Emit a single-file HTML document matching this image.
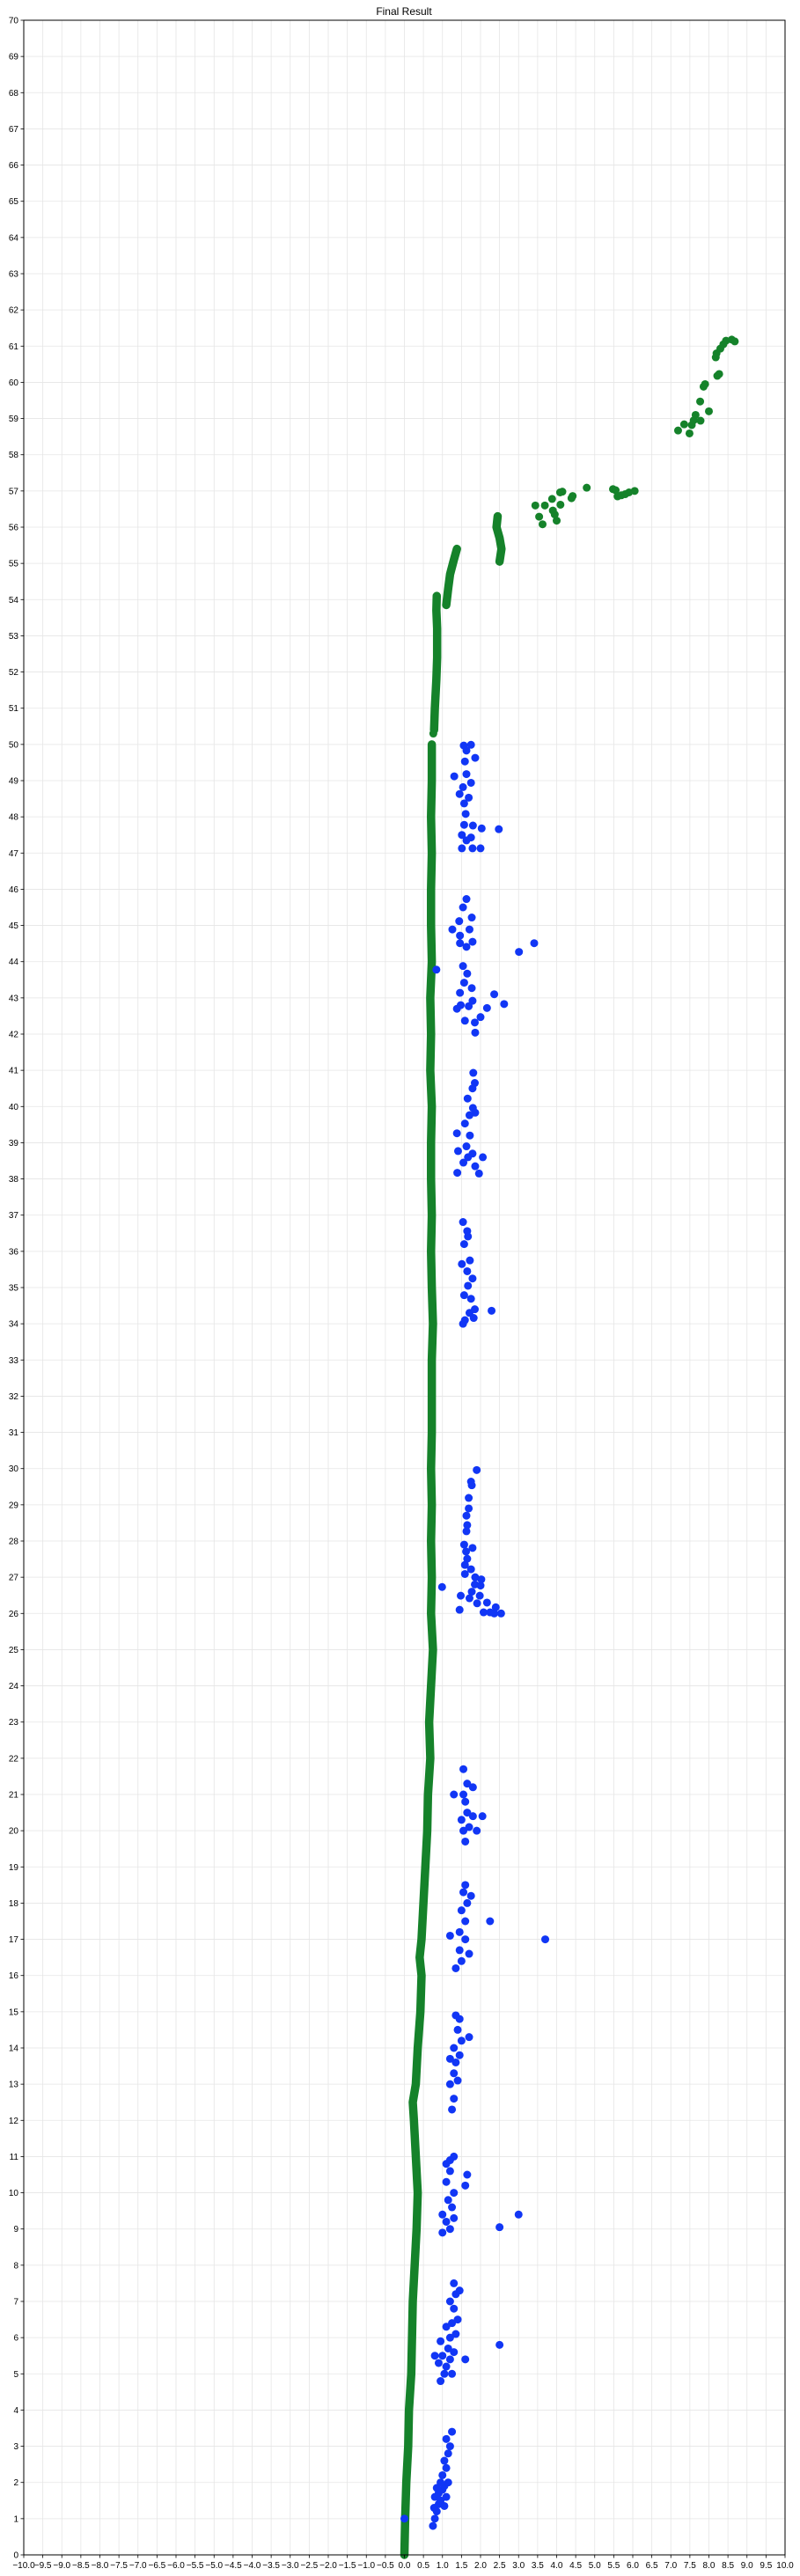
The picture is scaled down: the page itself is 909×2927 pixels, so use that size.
<!DOCTYPE html>
<html><head><meta charset="utf-8"><style>
html,body{margin:0;padding:0;background:#fff;}
svg{display:block;font-family:"Liberation Sans","DejaVu Sans",sans-serif;}
</style></head><body>
<svg id="chart" width="909" height="2927" viewBox="0 0 909 2927" xmlns="http://www.w3.org/2000/svg">
<rect x="0" y="0" width="909" height="2927" fill="#fff"/>
<text x="459" y="17" text-anchor="middle" font-size="12" fill="#000">Final Result</text>
<g id="grid"></g>
<g id="series"></g>
<g id="axes"></g>
</svg>
<script>
const xTicks = [];
for (let i = -20; i <= 20; i++) xTicks.push(i / 2);
const yTicks = [];
for (let i = 0; i <= 70; i++) yTicks.push(i);

const greenPathMain = [[0,0],[0.02,1],[0.05,2],[0.1,3],[0.12,4],[0.18,5],[0.2,6],[0.22,7],[0.27,8],[0.32,9],[0.35,10],[0.3,11],[0.25,12],[0.22,12.5],[0.3,13],[0.35,14],[0.42,15],[0.45,16],[0.4,16.5],[0.45,17],[0.5,18],[0.55,19],[0.6,20],[0.62,21],[0.68,22],[0.65,23],[0.7,24],[0.75,25],[0.7,26],[0.72,27],[0.7,28],[0.72,29],[0.7,30],[0.72,31],[0.72,32],[0.72,33],[0.75,34],[0.72,35],[0.7,36],[0.72,37],[0.7,38],[0.7,39],[0.72,40],[0.68,41],[0.7,42],[0.68,43],[0.72,44],[0.7,45],[0.7,46],[0.72,47],[0.7,48],[0.72,49],[0.72,50]];
const greenPath2 = [[0.78,50.4],[0.8,51],[0.84,51.8],[0.86,52.4],[0.86,53.2],[0.84,53.7],[0.85,54.1]];
const greenPath3 = [[1.1,53.85],[1.15,54.3],[1.2,54.7],[1.3,55.1],[1.38,55.4]];
const greenPath4 = [[2.5,55.05],[2.55,55.4],[2.5,55.7],[2.42,56.0],[2.45,56.3]];
const greenDots = [[0.76,50.3],[3.44,56.6],[3.54,56.29],[3.63,56.08],[3.69,56.6],[3.88,56.78],[3.9,56.46],[4.0,56.18],[3.95,56.35],[4.09,56.96],[4.15,56.98],[4.1,56.62],[4.39,56.8],[4.42,56.86],[4.79,57.09],[5.48,57.05],[5.55,57.02],[5.6,56.85],[5.7,56.88],[5.8,56.91],[5.9,56.96],[6.05,57.0],[7.19,58.67],[7.35,58.84],[7.49,58.59],[7.55,58.82],[7.6,58.95],[7.65,59.1],[7.78,58.94],[8.0,59.2],[7.77,59.47],[7.86,59.88],[7.9,59.95],[8.27,60.23],[8.22,60.18],[8.18,60.69],[8.2,60.8],[8.3,60.93],[8.38,61.05],[8.45,61.15],[8.6,61.18],[8.68,61.13]];
const bluePoints = [[0,1.0],
[0.75,0.8],[0.8,1.0],[0.85,1.2],[0.78,1.3],[0.9,1.4],[1.05,1.35],[0.95,1.5],[0.8,1.6],[1.1,1.6],[0.9,1.7],[1.0,1.8],[0.85,1.85],[1.05,1.9],[0.95,2.0],[1.15,2.0],[1.0,2.2],[1.1,2.4],[1.05,2.6],[1.15,2.8],[1.2,3.0],[1.25,3.4],[1.1,3.2],
[0.95,4.8],[1.05,5.0],[1.25,5.0],[0.9,5.3],[1.1,5.2],[1.2,5.4],[1.6,5.4],[1.0,5.5],[1.3,5.6],[1.15,5.7],[0.95,5.9],[1.2,6.0],[1.35,6.1],[1.1,6.3],[1.25,6.4],[1.4,6.5],[1.3,6.8],[1.2,7.0],[1.35,7.2],[1.3,7.5],[1.45,7.3],[2.5,5.8],[0.8,5.5],
[1.0,8.9],[1.2,9.0],[1.1,9.2],[1.3,9.3],[1.0,9.4],[1.25,9.6],[1.15,9.8],[1.3,10.0],[1.1,10.3],[1.2,10.6],[1.1,10.8],[1.3,11.0],[1.2,10.9],[1.6,10.2],[1.65,10.5],[2.5,9.05],[3.0,9.4],
[1.25,12.3],[1.3,12.6],[1.2,13.0],[1.4,13.1],[1.3,13.3],[1.35,13.6],[1.45,13.8],[1.3,14.0],[1.5,14.2],[1.4,14.5],[1.45,14.8],[1.35,14.9],[1.7,14.3],[1.2,13.7],
[1.35,16.2],[1.5,16.4],[1.45,16.7],[1.6,17.0],[1.45,17.2],[1.6,17.5],[1.5,17.8],[1.65,18.0],[1.55,18.3],[1.6,18.5],[1.2,17.1],[1.7,16.6],[2.25,17.5],[3.7,17.0],[1.75,18.2],
[1.6,19.7],[1.55,20.0],[1.7,20.1],[1.5,20.3],[1.65,20.5],[1.8,20.4],[2.05,20.4],[1.9,20.0],[1.6,20.8],[1.55,21.0],[1.3,21.0],[1.65,21.3],[1.55,21.7],[1.8,21.2],
[1.9,29.96],[1.75,29.64],[1.77,29.54],[1.69,29.19],[1.69,28.9],[1.63,28.7],[1.65,28.44],[1.63,28.27],[1.57,27.9],[1.79,27.81],[1.62,27.71],[1.65,27.51],[1.59,27.34],[1.75,27.22],[1.59,27.09],[1.86,27.0],[2.02,26.94],[1.85,26.8],[2.0,26.77],[0.99,26.73],[1.77,26.6],[1.48,26.49],[1.71,26.42],[1.98,26.49],[1.91,26.28],[2.17,26.3],[1.45,26.1],[2.08,26.03],[2.25,26.03],[2.36,26.0],[2.4,26.17],[2.54,26.0],
[1.54,36.81],[1.65,36.56],[1.67,36.41],[1.57,36.2],[1.51,35.65],[1.72,35.75],[1.65,35.45],[1.79,35.25],[1.67,35.05],[1.57,34.79],[1.75,34.69],[1.54,34.0],[1.59,34.1],[1.71,34.3],[1.85,34.4],[1.82,34.16],[2.29,34.36],
[1.81,40.93],[1.85,40.65],[1.79,40.5],[1.66,40.22],[1.8,39.96],[1.86,39.83],[1.71,39.76],[1.59,39.53],[1.38,39.26],[1.72,39.2],[1.63,38.9],[1.41,38.77],[1.79,38.7],[2.06,38.6],[1.55,38.45],[1.86,38.35],[1.39,38.17],[1.96,38.15],[1.67,38.6],
[1.54,43.88],[0.84,43.78],[1.65,43.67],[1.57,43.42],[1.77,43.27],[1.46,43.14],[2.36,43.1],[1.79,42.92],[1.48,42.8],[1.38,42.7],[2.62,42.83],[1.69,42.77],[2.17,42.72],[2.0,42.47],[1.59,42.37],[1.85,42.32],[1.86,42.04],[3.01,44.27],[3.41,44.51],[1.63,45.73],[1.54,45.5],[1.77,45.22],[1.44,45.12],[1.26,44.89],[1.71,44.89],[1.46,44.72],[1.79,44.55],[1.46,44.51],[1.63,44.41],
[1.56,49.97],[1.75,49.99],[1.63,49.83],[1.86,49.63],[1.59,49.53],[1.31,49.12],[1.63,49.18],[1.75,48.94],[1.54,48.82],[1.45,48.63],[1.69,48.53],[1.57,48.37],[1.61,48.08],[1.57,47.78],[1.8,47.76],[2.03,47.68],[2.48,47.66],[1.51,47.5],[1.75,47.43],[1.51,47.13],[1.79,47.13],[2.0,47.13],[1.63,47.35]];

const NS = 'http://www.w3.org/2000/svg';
const L = 27, R = 892, T = 23, B = 2903;
const xMin = -10, xMax = 10, yMin = 0, yMax = 70;
function sx(v){ return L + (v - xMin) / (xMax - xMin) * (R - L); }
function sy(v){ return B - (v - yMin) / (yMax - yMin) * (B - T); }
function mk(tag, attrs, parent){
  const e = document.createElementNS(NS, tag);
  for (const k in attrs) e.setAttribute(k, attrs[k]);
  parent.appendChild(e);
  return e;
}
const grid = document.getElementById('grid');
const axes = document.getElementById('axes');
const series = document.getElementById('series');
function fmtX(v){ const s = v.toFixed(1); return v < 0 ? '\u2212' + s.slice(1) : s; }

xTicks.forEach(v => {
  const gl = mk('line', {x1:sx(v), x2:sx(v), y1:T, y2:B, stroke:'#e5e5e5', 'stroke-width':0.8}, grid);
  
  
  const tk = mk('line', {x1:sx(v), x2:sx(v), y1:B, y2:B+3.5, stroke:'#000', 'stroke-width':0.8}, axes);
  
  
  const t = mk('text', {x:sx(v), y:B+15, 'text-anchor':'middle', 'font-size':10, fill:'#000'}, axes);
  t.textContent = fmtX(v);
  
  
});
yTicks.forEach(v => {
  const gl = mk('line', {x1:L, x2:R, y1:sy(v), y2:sy(v), stroke:'#e5e5e5', 'stroke-width':0.8}, grid);
  
  
  const tk = mk('line', {x1:L-3.5, x2:L, y1:sy(v), y2:sy(v), stroke:'#000', 'stroke-width':0.8}, axes);
  
  
  const t = mk('text', {x:L-6, y:sy(v)+3.5, 'text-anchor':'end', 'font-size':10, fill:'#000'}, axes);
  t.textContent = String(v);
  
  
});
const frame = mk('rect', {x:L, y:T, width:R-L, height:B-T, fill:'none', stroke:'#000', 'stroke-width':1}, axes);



const GREEN = '#15822a', BLUE = '#1136f5';
[greenPathMain, greenPath2, greenPath3, greenPath4].forEach(arr => {
  const p = mk('polyline', {points: arr.map(d => sx(d[0]) + ',' + sy(d[1])).join(' '), fill:'none', stroke:GREEN, 'stroke-width':9.5, 'stroke-linecap':'round', 'stroke-linejoin':'round'}, series);
  
  
});
greenDots.forEach(d => {
  const c = mk('circle', {cx:sx(d[0]), cy:sy(d[1]), r:4.5, fill:GREEN}, series);
  
  
});
bluePoints.forEach(d => {
  const c = mk('circle', {cx:sx(d[0]), cy:sy(d[1]), r:4.5, fill:BLUE}, series);
  
  
});
</script>
</body></html>
